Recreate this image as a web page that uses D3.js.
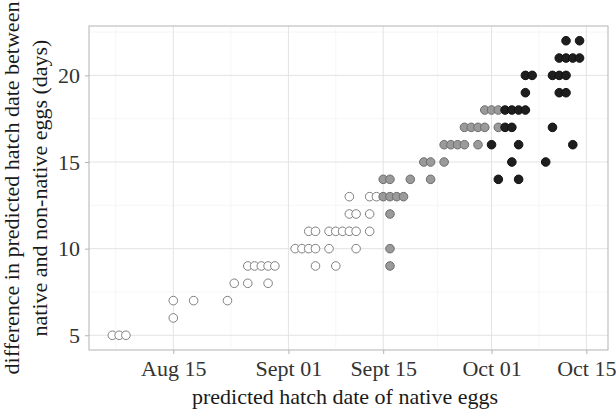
<!DOCTYPE html>
<html>
<head>
<meta charset="utf-8">
<script src="https://cdn.jsdelivr.net/npm/d3@7"></script>
<style>
  html, body { margin: 0; padding: 0; background: #fff; }
  svg { display: block; }
  text { font-family: "Liberation Serif", "DejaVu Serif", serif; }
</style>
</head>
<body>
<svg id="chart" width="616" height="409"></svg>
<script>
// ---- data (date of native hatch, difference in days) ----
const whiteDates = ["2015-08-06","2015-08-07","2015-08-08",
  "2015-08-15",
  "2015-08-15","2015-08-18","2015-08-23",
  "2015-08-24","2015-08-26","2015-08-29",
  "2015-08-26","2015-08-27","2015-08-28","2015-08-29","2015-08-30","2015-09-05","2015-09-08",
  "2015-09-02","2015-09-03","2015-09-04","2015-09-05","2015-09-07","2015-09-11",
  "2015-09-04","2015-09-05","2015-09-07","2015-09-08","2015-09-09","2015-09-10","2015-09-11","2015-09-13",
  "2015-09-10","2015-09-11","2015-09-13",
  "2015-09-10","2015-09-13","2015-09-14"];
const whiteValues = [5,5,5,
  6,
  7,7,7,
  8,8,8,
  9,9,9,9,9,9,9,
  10,10,10,10,10,10,
  11,11,11,11,11,11,11,11,
  12,12,12,
  13,13,13];

const grayDates = ["2015-09-16",
  "2015-09-16",
  "2015-09-16",
  "2015-09-15","2015-09-16","2015-09-17","2015-09-18",
  "2015-09-15","2015-09-16","2015-09-19","2015-09-22",
  "2015-09-21","2015-09-22","2015-09-24",
  "2015-09-24","2015-09-25","2015-09-26","2015-09-27","2015-09-29",
  "2015-09-27","2015-09-28","2015-09-29","2015-09-30","2015-10-02",
  "2015-09-30","2015-10-01","2015-10-02"];
const grayValues = [9,
  10,
  12,
  13,13,13,13,
  14,14,14,14,
  15,15,15,
  16,16,16,16,16,
  17,17,17,17,17,
  18,18,18];

const blackDates = ["2015-10-02","2015-10-05",
  "2015-10-04","2015-10-09",
  "2015-10-01","2015-10-05","2015-10-13",
  "2015-10-03","2015-10-04","2015-10-10",
  "2015-10-03","2015-10-04","2015-10-05","2015-10-06",
  "2015-10-06","2015-10-11","2015-10-12",
  "2015-10-06","2015-10-07","2015-10-10","2015-10-11","2015-10-12",
  "2015-10-11","2015-10-12","2015-10-13","2015-10-14",
  "2015-10-12","2015-10-14"];
const blackValues = [14,14,
  15,15,
  16,16,16,
  17,17,17,
  18,18,18,18,
  19,19,19,
  20,20,20,20,20,
  21,21,21,21,
  22,22];

const xTickDates = ["2015-08-15","2015-09-01","2015-09-15","2015-10-01","2015-10-15"];
const xTickLabels = ["Aug 15","Sept 01","Sept 15","Oct 01","Oct 15"];
const yTicks = [5, 10, 15, 20];
const yMinor = [7.5, 12.5, 17.5, 22.5];

const xTitle = "predicted hatch date of native eggs";
const yTitleLines = ["difference in predicted hatch date between", "native and non-native eggs (days)"];

// ---- layout ----
const parse = d3.timeParse("%Y-%m-%d");
const DAY = 86400000;
const panel = { left: 89, top: 26, right: 608, bottom: 350 };

const ref = parse("2015-08-15");
const x = d3.scaleTime()
  .domain([new Date(+ref - 12.45 * DAY), new Date(+ref + 64.2 * DAY)])
  .range([panel.left, panel.right]);
const y = d3.scaleLinear()
  .domain([4.15, 22.85])
  .range([panel.bottom, panel.top]);

const svg = d3.select("#chart");

// minor x grid: midpoints between major breaks (extended)
const majors = xTickDates.map(parse);
const ext = [new Date(+majors[0] - (+majors[1] - +majors[0]))].concat(majors)
  .concat([new Date(+majors[majors.length-1] + (+majors[majors.length-1] - +majors[majors.length-2]))]);
const xMinor = [];
for (let i = 0; i < ext.length - 1; i++) xMinor.push(new Date((+ext[i] + +ext[i+1]) / 2));
const [x0, x1] = x.domain();
const xMinorIn = xMinor.filter(d => d >= x0 && d <= x1);

const grid = svg.append("g");
grid.selectAll(".xminor").data(xMinorIn).enter().append("line")
  .attr("x1", d => x(d)).attr("x2", d => x(d))
  .attr("y1", panel.top).attr("y2", panel.bottom)
  .attr("stroke", "#f0f0f0").attr("stroke-width", 0.6);
grid.selectAll(".yminor").data(yMinor).enter().append("line")
  .attr("x1", panel.left).attr("x2", panel.right)
  .attr("y1", d => y(d)).attr("y2", d => y(d))
  .attr("stroke", "#f0f0f0").attr("stroke-width", 0.6);
grid.selectAll(".xmajor").data(majors).enter().append("line")
  .attr("x1", d => x(d)).attr("x2", d => x(d))
  .attr("y1", panel.top).attr("y2", panel.bottom)
  .attr("stroke", "#e3e3e3").attr("stroke-width", 1);
grid.selectAll(".ymajor").data(yTicks).enter().append("line")
  .attr("x1", panel.left).attr("x2", panel.right)
  .attr("y1", d => y(d)).attr("y2", d => y(d))
  .attr("stroke", "#e3e3e3").attr("stroke-width", 1);

// axes
const xAxis = d3.axisBottom(x).tickValues(majors)
  .tickFormat((d, i) => xTickLabels[i]).tickSize(4).tickPadding(4);
const gx = svg.append("g").attr("transform", `translate(0,${panel.bottom})`).call(xAxis);
gx.select(".domain").remove();
gx.selectAll(".tick line").attr("stroke", "#b3b3b3");
gx.selectAll(".tick text").attr("font-size", 22).attr("fill", "#333333")
  .attr("font-family", "Liberation Serif, serif").attr("dy", null).attr("y", 26);

const yAxis = d3.axisLeft(y).tickValues(yTicks).tickSize(4).tickPadding(5);
const gy = svg.append("g").attr("transform", `translate(${panel.left},0)`).call(yAxis);
gy.select(".domain").remove();
gy.selectAll(".tick line").attr("stroke", "#b3b3b3");
gy.selectAll(".tick text").attr("font-size", 22).attr("fill", "#333333")
  .attr("font-family", "Liberation Serif, serif");

// panel border
svg.append("rect")
  .attr("x", panel.left).attr("y", panel.top)
  .attr("width", panel.right - panel.left).attr("height", panel.bottom - panel.top)
  .attr("fill", "none").attr("stroke", "#b3b3b3").attr("stroke-width", 1);

// points
function drawSeries(dates, values, fill, stroke) {
  svg.append("g").selectAll("circle")
    .data(dates.map((d, i) => ({ date: parse(d), v: values[i] })))
    .enter().append("circle")
    .attr("cx", d => x(d.date))
    .attr("cy", d => y(d.v))
    .attr("r", 4.3)
    .attr("fill", fill)
    .attr("stroke", stroke)
    .attr("stroke-width", 1);
}
drawSeries(whiteDates, whiteValues, "#ffffff", "#808080");
drawSeries(grayDates, grayValues, "#9a9a9a", "#6e6e6e");
drawSeries(blackDates, blackValues, "#1e1e1e", "#111111");

// titles
svg.append("text")
  .attr("x", 345)
  .attr("y", 404)
  .attr("text-anchor", "middle")
  .attr("font-size", 22)
  .attr("fill", "#1a1a1a")
  .text(xTitle);

const cy = (panel.top + panel.bottom) / 2;
[19, 47].forEach((bx, i) => {
  svg.append("text")
    .attr("transform", `translate(${bx},${cy}) rotate(-90)`)
    .attr("text-anchor", "middle")
    .attr("font-size", 22)
    .attr("fill", "#1a1a1a")
    .text(yTitleLines[i]);
});
</script>
</body>
</html>
